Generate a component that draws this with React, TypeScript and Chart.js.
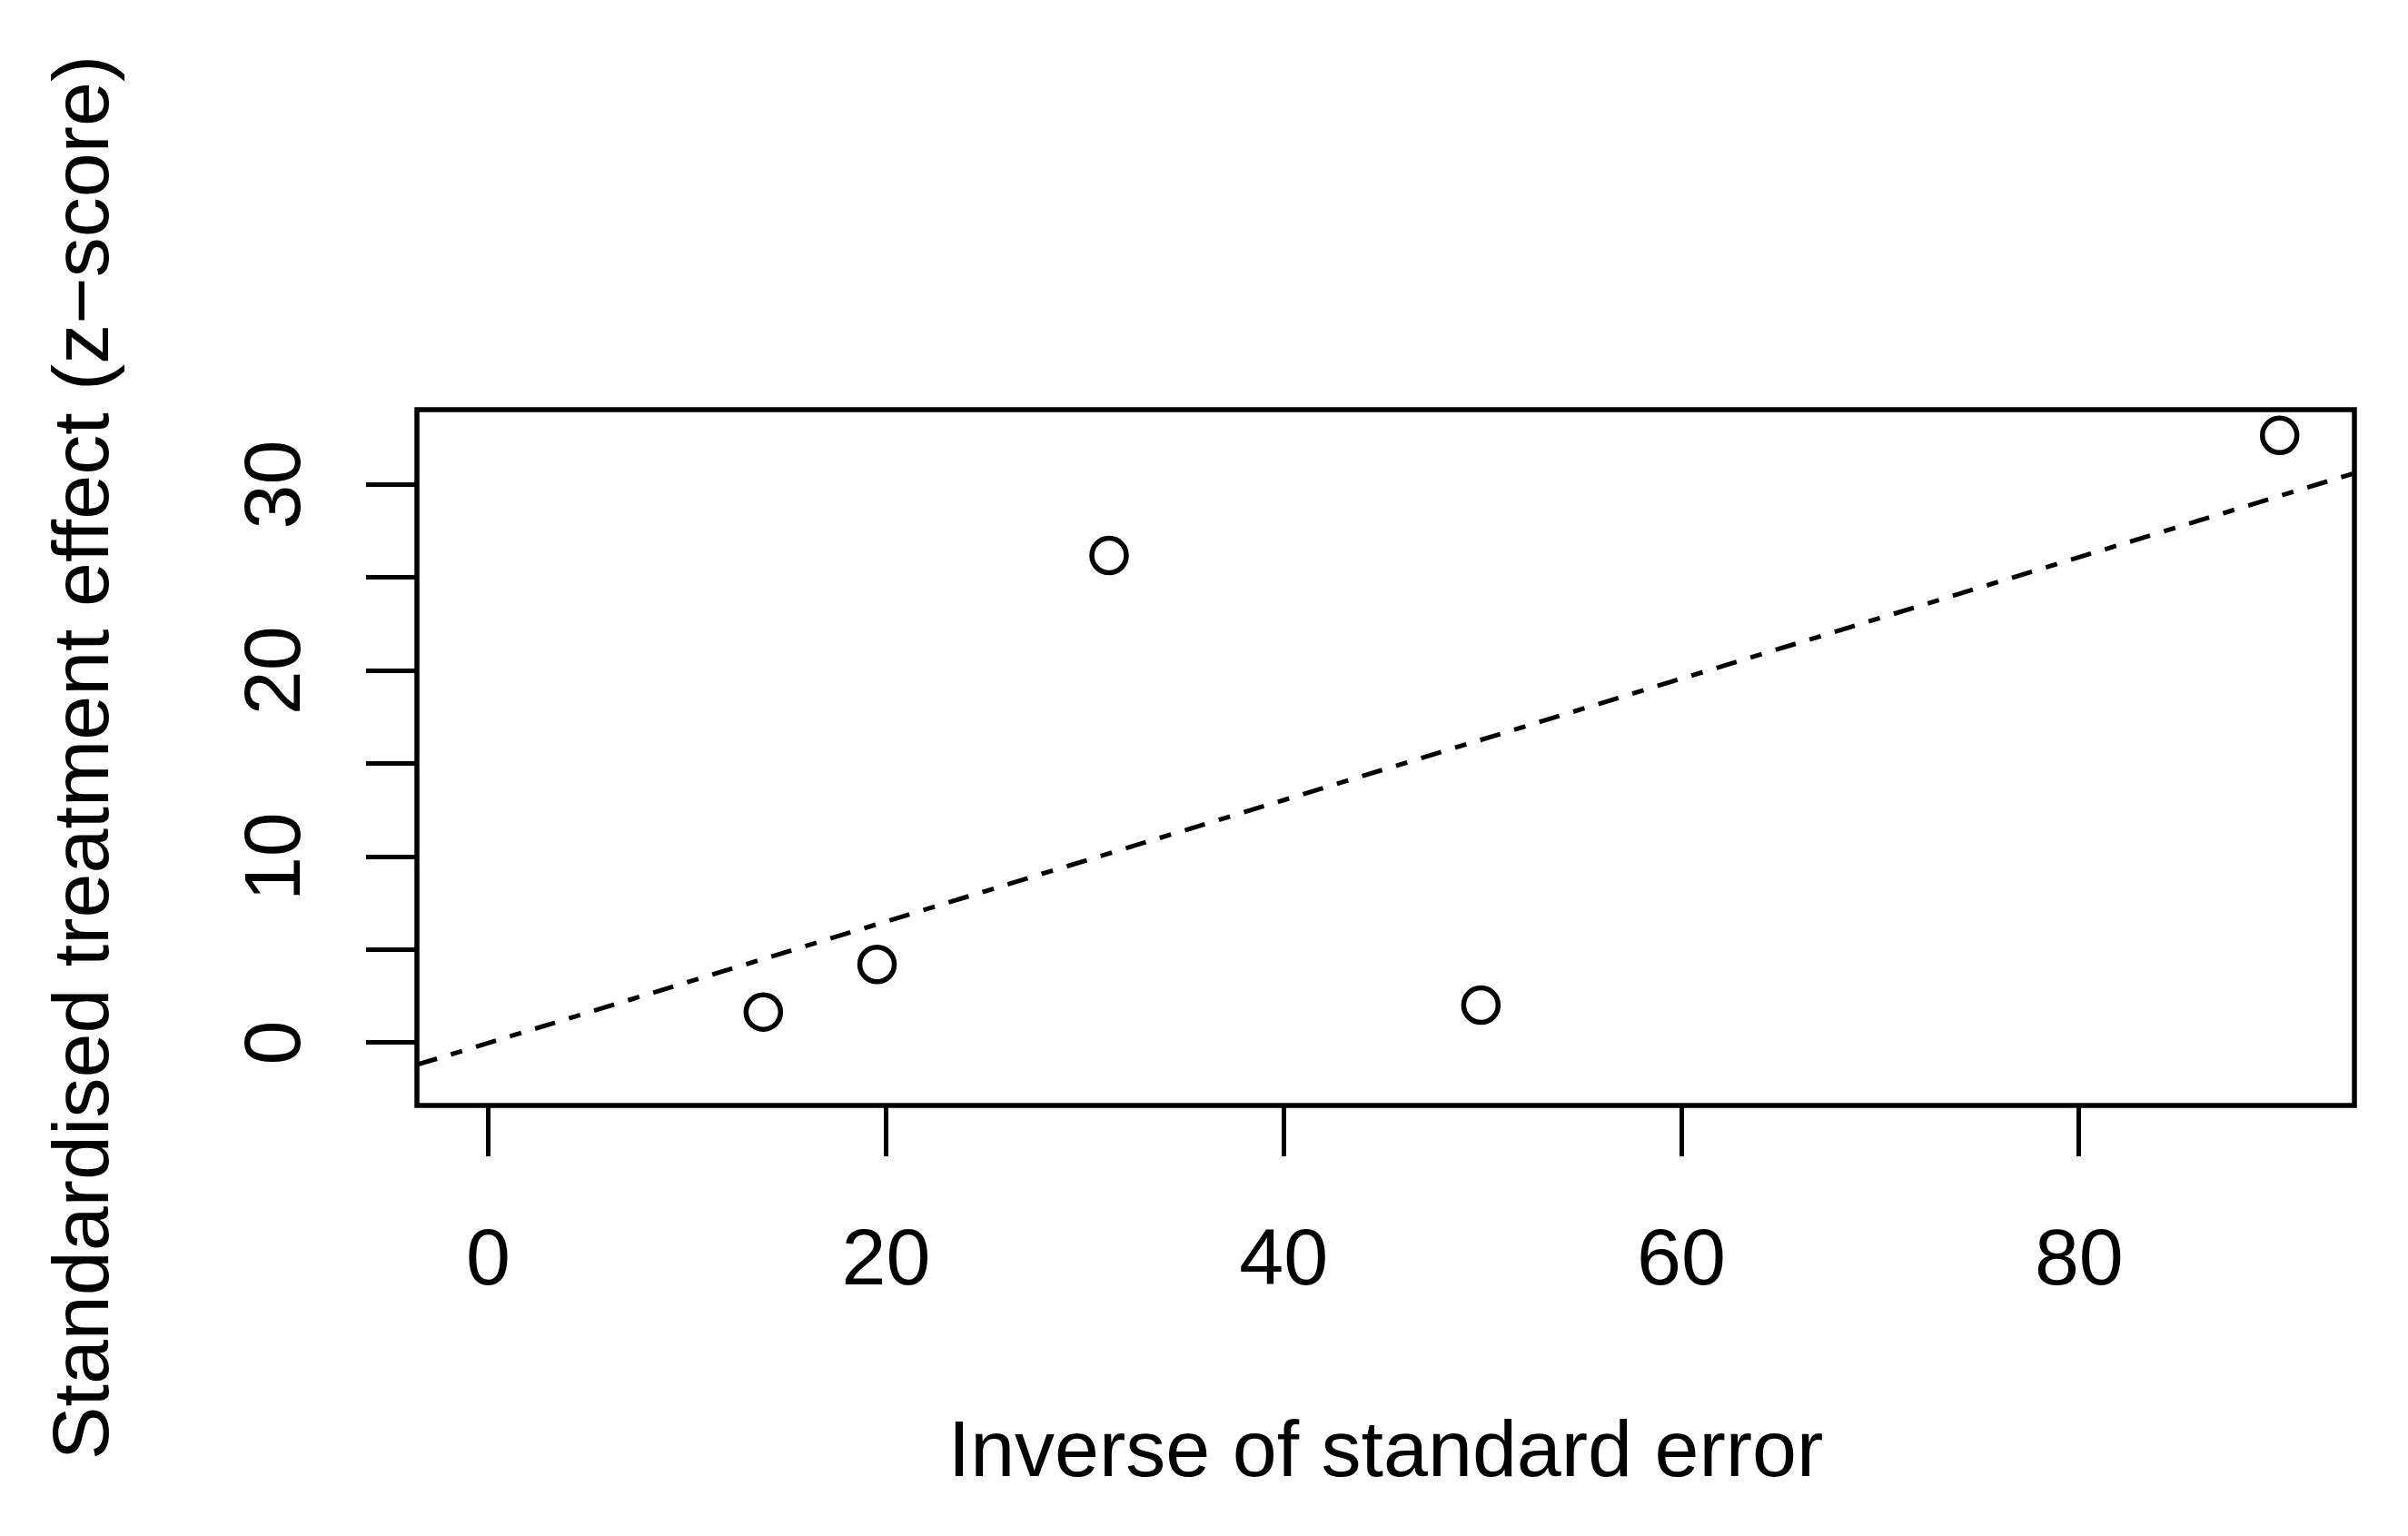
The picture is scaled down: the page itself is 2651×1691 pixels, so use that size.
import React, { useEffect, useRef } from "react";
import { Chart, registerables } from "chart.js";

Chart.register(...registerables);

// ---- data ----
const X_VALUES = [13.83, 19.55, 31.22, 49.92, 90.09];
const Y_VALUES = [1.65, 4.21, 26.19, 2.02, 32.65];

const X_TICKS = [0, 20, 40, 60, 80];
const X_TICK_LABELS = ["0", "20", "40", "60", "80"];
const Y_TICKS = [0, 5, 10, 15, 20, 25, 30];
const Y_TICK_LABELS = ["0", "", "10", "", "20", "", "30"];

const X_LIMITS = [-3.59, 93.85];
const Y_LIMITS = [-3.37, 34.03];

const X_TITLE = "Inverse of standard error";
const Y_TITLE = "Standardised treatment effect (z\u2212score)";

const FONT_FAMILY = "'Liberation Sans', Arial, Helvetica, sans-serif";

function fitLine(xs: number[], ys: number[]) {
  const n = xs.length;
  const mx = xs.reduce((s, v) => s + v, 0) / n;
  const my = ys.reduce((s, v) => s + v, 0) / n;
  let sxy = 0;
  let sxx = 0;
  for (let i = 0; i < n; i++) {
    sxy += (xs[i] - mx) * (ys[i] - my);
    sxx += (xs[i] - mx) * (xs[i] - mx);
  }
  const b = sxy / sxx;
  const a = my - b * mx;
  return { a, b };
}

const framePlugin = {
  id: "rFrame",
  afterDraw(chart: any) {
    const { ctx, chartArea } = chart;
    const { left, top, right, bottom } = chartArea;
    ctx.save();
    ctx.strokeStyle = "#000";
    ctx.lineWidth = 5.5;
    ctx.strokeRect(left, top, right - left, bottom - top);
    ctx.restore();
  },
};

export default function App() {
  const canvasRef = useRef<HTMLCanvasElement | null>(null);

  useEffect(() => {
    const canvas = canvasRef.current;
    if (!canvas) return;
    const { a, b } = fitLine(X_VALUES, Y_VALUES);
    const lineData = [
      { x: X_LIMITS[0], y: a + b * X_LIMITS[0] },
      { x: X_LIMITS[1], y: a + b * X_LIMITS[1] },
    ];
    const points = X_VALUES.map((x, i) => ({ x, y: Y_VALUES[i] }));

    Chart.defaults.color = "#000";
    Chart.defaults.font.family = FONT_FAMILY;

    const chart = new Chart(canvas, {
      type: "scatter",
      data: {
        datasets: [
          {
            type: "line",
            label: "fit",
            data: lineData,
            borderColor: "#000",
            borderWidth: 5,
            borderDash: [23, 16, 13, 16],
            pointRadius: 0,
            fill: false,
            tension: 0,
          } as any,
          {
            label: "studies",
            data: points,
            pointStyle: "circle",
            pointRadius: 19,
            pointBorderWidth: 5.5,
            borderColor: "#000",
            backgroundColor: "rgba(0,0,0,0)",
            pointBackgroundColor: "rgba(0,0,0,0)",
            pointBorderColor: "#000",
          } as any,
        ],
      },
      options: {
        animation: false,
        responsive: false,
        maintainAspectRatio: false,
        layout: { padding: { top: 451, right: 59, left: 0, bottom: 0 } },
        plugins: {
          legend: { display: false },
          tooltip: { enabled: false },
          title: { display: false },
        },
        scales: {
          x: {
            type: "linear",
            min: X_LIMITS[0],
            max: X_LIMITS[1],
            afterBuildTicks: (scale: any) => {
              scale.ticks = X_TICKS.map((v) => ({ value: v }));
            },
            afterFit: (scale: any) => {
              scale.height = 474;
            },
            ticks: {
              autoSkip: false,
              maxRotation: 0,
              minRotation: 0,
              padding: 64,
              color: "#000",
              font: { size: 88, family: FONT_FAMILY, lineHeight: 1.2 },
              callback: (value: any) => {
                const i = X_TICKS.indexOf(Number(value));
                return i >= 0 ? X_TICK_LABELS[i] : "";
              },
            },
            grid: {
              display: true,
              drawOnChartArea: false,
              drawTicks: true,
              tickLength: 56,
              tickWidth: 5,
              tickColor: "#000",
              color: "#000",
            },
            border: { display: false },
            title: {
              display: true,
              text: X_TITLE,
              color: "#000",
              font: { size: 88, family: FONT_FAMILY, lineHeight: 1.2 },
              padding: { top: 0, bottom: 37 },
            },
          },
          y: {
            type: "linear",
            min: Y_LIMITS[0],
            max: Y_LIMITS[1],
            afterBuildTicks: (scale: any) => {
              scale.ticks = Y_TICKS.map((v) => ({ value: v }));
            },
            afterFit: (scale: any) => {
              scale.width = 459;
            },
            ticks: {
              autoSkip: false,
              minRotation: 90,
              maxRotation: 90,
              crossAlign: "center",
              padding: 48,
              color: "#000",
              font: { size: 88, family: FONT_FAMILY, lineHeight: 1.2 },
              callback: (value: any) => {
                const i = Y_TICKS.indexOf(Number(value));
                return i >= 0 ? Y_TICK_LABELS[i] : "";
              },
            },
            grid: {
              display: true,
              drawOnChartArea: false,
              drawTicks: true,
              tickLength: 56,
              tickWidth: 5,
              tickColor: "#000",
              color: "#000",
            },
            border: { display: false },
            title: {
              display: true,
              text: Y_TITLE,
              color: "#000",
              font: { size: 88, family: FONT_FAMILY, lineHeight: 1.2 },
              padding: { top: 42, bottom: 0 },
            },
          },
        },
      } as any,
      plugins: [framePlugin],
    });

    return () => {
      chart.destroy();
    };
  }, []);

  return (
    <div
      style={{
        position: "absolute",
        left: 0,
        top: 0,
        width: 2651,
        height: 1691,
        background: "#fff",
      }}
    >
      <canvas
        ref={canvasRef}
        width={2651}
        height={1691}
        style={{ display: "block", width: 2651, height: 1691 }}
      />
    </div>
  );
}
